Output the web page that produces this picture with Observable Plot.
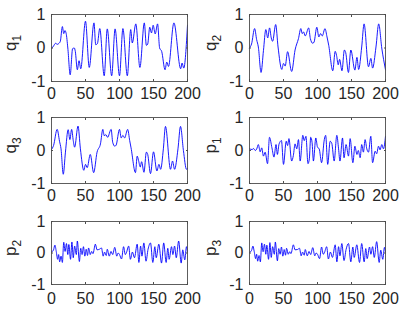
<!DOCTYPE html>
<html><head><meta charset="utf-8">
<script src="https://cdn.jsdelivr.net/npm/d3@7"></script>
<script src="https://cdn.jsdelivr.net/npm/@observablehq/plot@0.6"></script>
<style>
body{margin:0;background:#fff;}
#fig{position:relative;width:404px;height:314px;overflow:hidden;background:#fff;}
#fig svg{position:absolute;overflow:visible;}
</style></head><body><div id="fig"></div>
<script>
// Series values: [sample index, value]
const q1 = [[0,-0.02],[3,0.06],[6,0.14],[8.5,0.11],[11,0.14],[13,0.2],[16,0.64],[18,0.43],[19.7,0.52],[21.5,0.44],[24,0.0],[27.5,-0.8],[31,-0.02],[33.5,0.0],[35,-0.1],[38,-0.65],[40.5,-0.38],[43,-0.62],[50,0.8],[55.5,-0.58],[62.5,0.75],[65,0.1],[67.5,0.13],[71,0.58],[77.5,-0.83],[82,0.57],[88.5,-0.83],[93.5,0.57],[100,-0.83],[105,0.58],[111.5,-0.83],[116.5,0.55],[118.8,0.15],[124,0.72],[130,-0.58],[136.5,0.75],[139.5,0.08],[141.5,0.12],[144.5,0.62],[147,0.45],[149.5,0.68],[152.5,0.42],[156,0.72],[159,0.0],[162,-0.1],[167,-0.65],[169.5,-0.42],[172,-0.55],[180,0.75],[190,-0.62],[192,-0.45],[194.5,-0.6],[200,0.68]];
const q2 = [[0,0.0],[3,0.12],[7.5,0.58],[10.5,0.25],[13,0.03],[17,-0.73],[20.5,-0.08],[24,0.55],[26.8,0.3],[29.5,0.6],[32,0.3],[34,0.2],[38.5,0.7],[42,0.03],[47.5,-0.64],[50,-0.46],[52.5,-0.54],[56,-0.11],[62,-0.7],[67,-0.06],[72,0.28],[75.5,0.58],[77.5,0.43],[79.5,0.48],[82,0.36],[87,0.6],[89.5,0.28],[93,0.14],[95,0.18],[99,0.62],[102,0.33],[104.5,0.43],[107,0.36],[111,0.58],[114,0.33],[116.5,0.08],[122.5,-0.68],[126,-0.1],[128,-0.22],[130.5,-0.5],[132.5,-0.34],[136,-0.68],[139.5,-0.06],[141.5,-0.14],[145.5,-0.73],[149,-0.06],[155,-0.66],[158,-0.28],[160.5,-0.64],[165,0.03],[168.5,0.72],[175,-0.56],[178.5,-0.31],[181,-0.6],[186,0.03],[190,0.72],[194.5,0.0],[200,-0.65]];
const q3 = [[0,0.03],[3,0.15],[8.3,0.64],[11.8,0.28],[14,0.05],[17.3,-0.72],[20.5,-0.05],[24.5,0.63],[27,0.33],[29.6,0.64],[32,0.3],[34,0.1],[39,0.74],[42.5,0.05],[47.5,-0.6],[50,-0.42],[52.5,-0.52],[57,-0.12],[62,-0.67],[67,-0.05],[72,0.2],[75.5,0.64],[77.5,0.45],[80,0.48],[82.5,0.4],[87.7,0.64],[90,0.25],[93,0.13],[95,0.16],[100,0.64],[102.5,0.38],[105,0.46],[107.5,0.38],[112,0.64],[115,0.3],[117,0.08],[123.5,-0.67],[126,-0.17],[128,-0.3],[130.5,-0.5],[132.5,-0.34],[136,-0.66],[139.5,-0.05],[141.5,-0.12],[145.6,-0.7],[150,-0.04],[155,-0.62],[158,-0.42],[160.5,-0.57],[164.5,0.05],[167.6,0.73],[175,-0.57],[178,-0.32],[181,-0.57],[186,0.05],[189.7,0.73],[194,0.0],[198.5,-0.57],[200,-0.54]];
const p1 = [[0,0.05],[4,0.03],[6,0.06],[8.5,0.0],[10.5,0.04],[13,0.18],[15.7,-0.04],[18,0.08],[20.5,-0.17],[23,-0.05],[26.5,-0.4],[29.4,0.4],[33,0.08],[36,-0.2],[39,0.18],[41,-0.12],[43.5,0.2],[47,0.3],[50,-0.42],[54,0.28],[56,0.15],[58,0.36],[62,-0.32],[64.5,-0.15],[67,0.2],[69.5,0.05],[72,0.33],[74.5,-0.32],[78.4,0.46],[80.5,0.3],[83,0.43],[86,-0.4],[88,-0.25],[90,0.4],[92,0.25],[94,-0.32],[97.5,0.38],[100,0.1],[102.5,0.05],[106,-0.37],[110,0.33],[112,0.46],[115,-0.42],[118.6,0.28],[121,0.22],[124.5,-0.32],[128.4,0.46],[131,0.05],[133,-0.32],[136.8,0.38],[139,-0.22],[142,0.18],[145.6,-0.17],[148,0.36],[152,-0.37],[155,0.13],[158,-0.12],[160,0.0],[162.7,-0.22],[165,0.18],[167.5,-0.05],[170,0.33],[172.5,0.05],[175,-0.05],[178.4,0.43],[181,-0.37],[184.8,-0.02],[187,-0.1],[189.7,0.13],[192,0.02],[194.6,0.18],[197,0.05],[200,0.43]];
const p2 = [[0,0.03],[3,0.1],[5,0.25],[7,0.05],[9,-0.2],[10.5,-0.05],[12,-0.28],[14,-0.1],[16,-0.3],[18,0.34],[20,0.05],[22,0.3],[24,-0.05],[25.5,0.27],[28,-0.2],[30,0.35],[32,-0.15],[34,0.22],[36.5,-0.05],[38,0.38],[41,-0.27],[43,0.15],[45,-0.05],[47,0.2],[49,-0.1],[51,0.12],[53,-0.08],[54.5,0.16],[57,-0.05],[59,0.05],[61,-0.02],[64.5,0.28],[67,0.1],[70.5,0.12],[73.5,0.16],[76,-0.1],[78,0.03],[80.5,-0.08],[82,0.12],[85,-0.1],[87.5,0.05],[90,-0.05],[93,0.18],[96,-0.1],[98,0.0],[100,-0.05],[103,-0.19],[106,0.2],[108.5,-0.05],[110,0.0],[113.5,0.22],[116,-0.2],[119,0.03],[122,-0.15],[126,0.28],[128.5,-0.3],[131,0.22],[133,-0.1],[135.8,0.32],[139,-0.26],[142,0.12],[145.6,0.32],[149,-0.3],[152,0.2],[154,-0.15],[157.8,0.28],[161.8,-0.32],[165,0.32],[168.6,-0.3],[171,0.15],[173,-0.2],[176.5,0.2],[178.5,-0.05],[181,0.22],[183.5,-0.15],[187,0.38],[190.7,-0.32],[193,0.1],[196,-0.22],[198.5,0.2],[200,0.05]];
const p3 = [[0,0.02],[3,0.08],[5,0.22],[7,0.04],[9,-0.18],[10.5,-0.04],[12,-0.26],[14,-0.08],[16,-0.28],[18,0.32],[20,0.04],[22,0.28],[24,-0.04],[25.5,0.25],[28,-0.2],[30,0.33],[32,-0.14],[34,0.2],[36.5,-0.04],[38,0.35],[41,-0.25],[43,0.14],[45,-0.04],[47,0.19],[49,-0.1],[51,0.11],[53,-0.07],[54.5,0.15],[57,-0.04],[59,0.04],[61,-0.02],[64.5,0.26],[67,0.1],[70.5,0.11],[73.5,0.15],[76,-0.09],[78,0.03],[80.5,-0.07],[82,0.11],[85,-0.09],[87.5,0.05],[90,-0.05],[93,0.17],[96,-0.09],[98,0.0],[100,-0.04],[103,-0.18],[106,0.19],[108.5,-0.04],[110,0.0],[113.5,0.2],[116,-0.19],[119,0.03],[122,-0.14],[126,0.26],[128.5,-0.28],[131,0.2],[133,-0.09],[135.8,0.3],[139,-0.24],[142,0.11],[145.6,0.3],[149,-0.28],[152,0.19],[154,-0.14],[157.8,0.26],[161.8,-0.3],[165,0.3],[168.6,-0.28],[171,0.14],[173,-0.18],[176.5,0.19],[178.5,-0.04],[181,0.2],[183.5,-0.14],[187,0.36],[190.7,-0.3],[193,0.09],[196,-0.2],[198.5,0.18],[200,0.04]];

const xTicks = [0, 50, 100, 150, 200];
const yTicks = [-1, 0, 1];
const panels = [
  {sym: "q", sub: "1", data: q1},
  {sym: "q", sub: "2", data: q2},
  {sym: "q", sub: "3", data: q3},
  {sym: "p", sub: "1", data: p1},
  {sym: "p", sub: "2", data: p2},
  {sym: "p", sub: "3", data: p3}
];

// layout
const colLeft = [0, 198];
const labelX = [16, 17.5];
const rowTop = [0, 103, 207];
const rowH = [67, 66, 63];
const rowPad = [8, 8, 10];
const mT = 14, mB = 24, mL = 51, mR = 15, W = 202;
const ink = "#262626", boxC = "#4d4d4d";
const font = "Liberation Sans, Arial, Helvetica, sans-serif";

const fig = document.getElementById("fig");
panels.forEach((p, i) => {
  const r = Math.floor(i / 2), c = i % 2;
  const h = rowH[r];
  const rows = p.data.map(([x, y]) => ({x, y}));
  const fmt = d => String(d);
  const chart = Plot.plot({
    width: W, height: mT + h + mB,
    marginLeft: mL, marginRight: mR, marginTop: mT, marginBottom: mB,
    style: {fontFamily: font, fontSize: "16px", color: ink, background: "transparent", overflow: "visible"},
    x: {domain: [0, 200]},
    y: {domain: [-1, 1]},
    marks: [
      Plot.line(rows, {x: "x", y: "y", stroke: "#0000ff", strokeWidth: 0.9, curve: "monotone-x"}),
      Plot.axisX(xTicks, {anchor: "bottom", tickSize: -2, tickPadding: rowPad[r], tickFormat: fmt, label: null, stroke: boxC, fill: ink, fontSize: 16}),
      Plot.axisX(xTicks, {anchor: "top", tickSize: -2, tickFormat: () => "", label: null, stroke: boxC}),
      Plot.axisY(yTicks, {anchor: "left", tickSize: -2, tickPadding: 8, tickFormat: fmt, label: null, stroke: boxC, fill: ink, fontSize: 16}),
      Plot.axisY(yTicks, {anchor: "right", tickSize: -2, tickFormat: () => "", label: null, stroke: boxC}),
      Plot.frame({stroke: boxC, strokeWidth: 0.9})
    ]
  });
  chart.style.left = colLeft[c] + "px";
  chart.style.top = rowTop[r] + "px";
  const svg = d3.select(chart);
  const cy = mT + h / 2 - 4.5;
  const t = svg.append("text")
    .attr("transform", `translate(${labelX[c]},${cy}) rotate(-90)`)
    .attr("text-anchor", "middle")
    .attr("font-family", font)
    .attr("font-size", 17)
    .attr("fill", ink);
  t.append("tspan").text(p.sym);
  t.append("tspan").attr("dy", 5).attr("font-size", 12).text(p.sub);
  fig.appendChild(chart);
});
</script></body></html>
